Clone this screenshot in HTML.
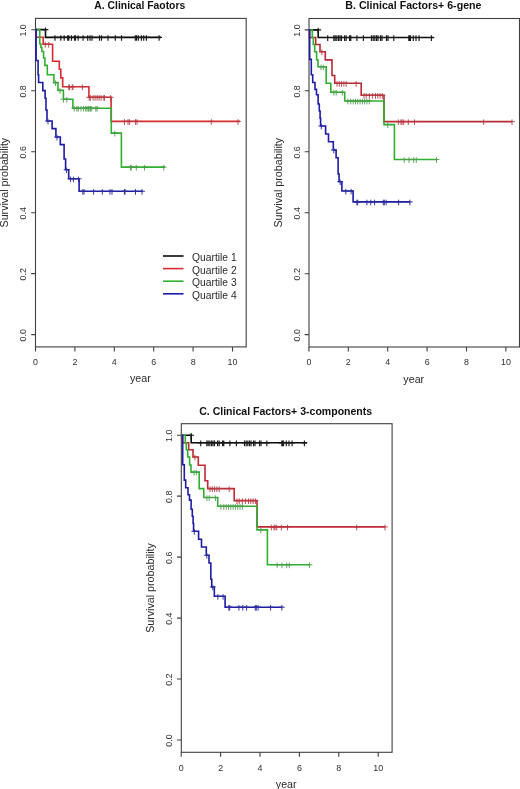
<!DOCTYPE html>
<html><head><meta charset="utf-8"><style>
html,body{margin:0;padding:0;background:#fff;}
body{width:520px;height:789px;overflow:hidden;}
svg{display:block;will-change:transform;}
text{font-family:"Liberation Sans",sans-serif;}
.tk{font-size:8.9px;fill:#303030;}
.ax{font-size:10.7px;fill:#2a2a2a;}
.ti{font-size:10.6px;font-weight:bold;fill:#111;}
.lg{font-size:10.3px;fill:#2a2a2a;}
</style></head><body>
<svg width="520" height="789" viewBox="0 0 520 789">
<rect width="520" height="789" fill="#fff"/>
<rect x="35.5" y="18.4" width="210.7" height="328.5" fill="none" stroke="#404040" stroke-width="1.1"/>
<path d="M31.2 334.6H35.5M31.2 273.64H35.5M31.2 212.68H35.5M31.2 151.72H35.5M31.2 90.76H35.5M31.2 29.8H35.5M35.5 346.9V351.4M74.9 346.9V351.4M114.3 346.9V351.4M153.7 346.9V351.4M193.1 346.9V351.4M232.5 346.9V351.4" stroke="#404040" stroke-width="1.1" fill="none"/>
<text class="tk" x="26.2" y="335.2" transform="rotate(-90 26.2 335.2)" text-anchor="middle">0.0</text>
<text class="tk" x="26.2" y="274.24" transform="rotate(-90 26.2 274.24)" text-anchor="middle">0.2</text>
<text class="tk" x="26.2" y="213.28" transform="rotate(-90 26.2 213.28)" text-anchor="middle">0.4</text>
<text class="tk" x="26.2" y="152.32" transform="rotate(-90 26.2 152.32)" text-anchor="middle">0.6</text>
<text class="tk" x="26.2" y="91.36" transform="rotate(-90 26.2 91.36)" text-anchor="middle">0.8</text>
<text class="tk" x="26.2" y="30.4" transform="rotate(-90 26.2 30.4)" text-anchor="middle">1.0</text>
<text class="tk" x="35.5" y="365.1" text-anchor="middle">0</text>
<text class="tk" x="74.9" y="365.1" text-anchor="middle">2</text>
<text class="tk" x="114.3" y="365.1" text-anchor="middle">4</text>
<text class="tk" x="153.7" y="365.1" text-anchor="middle">6</text>
<text class="tk" x="193.1" y="365.1" text-anchor="middle">8</text>
<text class="tk" x="232.5" y="365.1" text-anchor="middle">10</text>
<text class="ax" x="140.35" y="382.4" text-anchor="middle">year</text>
<text class="ax" x="8" y="182.65" transform="rotate(-90 8 182.65)" text-anchor="middle">Survival probability</text>
<text class="ti" x="139.8" y="9.3" text-anchor="middle" textLength="90.9" lengthAdjust="spacingAndGlyphs">A. Clinical Faotors</text>
<path d="M35.6 29.6H45.5V37.4H161" stroke="#0a0a0a" stroke-width="1.6" fill="none"/><path d="M45.5 27.4v5.6M42.6 29.6h5.8M55 35.2v5.6M52.1 37.4h5.8M60.8 35.2v5.6M57.9 37.4h5.8M64.2 35.2v5.6M61.3 37.4h5.8M67.7 35.2v5.6M64.8 37.4h5.8M68.8 35.2v5.6M65.9 37.4h5.8M71.5 35.2v5.6M68.6 37.4h5.8M74.6 35.2v5.6M71.7 37.4h5.8M75.4 35.2v5.6M72.5 37.4h5.8M78.1 35.2v5.6M75.2 37.4h5.8M83.1 35.2v5.6M80.2 37.4h5.8M87.7 35.2v5.6M84.8 37.4h5.8M90 35.2v5.6M87.1 37.4h5.8M92 35.2v5.6M89.1 37.4h5.8M99.5 35.2v5.6M96.6 37.4h5.8M101.5 35.2v5.6M98.6 37.4h5.8M108 35.2v5.6M105.1 37.4h5.8M115.3 35.2v5.6M112.4 37.4h5.8M121.5 35.2v5.6M118.6 37.4h5.8M135.3 35.2v5.6M132.4 37.4h5.8M136.6 35.2v5.6M133.7 37.4h5.8M138.3 35.2v5.6M135.4 37.4h5.8M141.4 35.2v5.6M138.5 37.4h5.8M143.7 35.2v5.6M140.8 37.4h5.8M146.4 35.2v5.6M143.5 37.4h5.8M159.1 35.2v5.6M156.2 37.4h5.8" stroke="#1a1a1a" stroke-width="1.15" fill="none"/>
<path d="M35.6 29.6H36.1V37.2H43.2V44.2H52.6V61.2H59.3V69.3H60.8V77.9H62.7V86.7H88.9V97.3H111.1V121.4H240" stroke="#d82c30" stroke-width="1.6" fill="none"/><path d="M45.2 42v5.6M42.3 44.2h5.8M48.7 42v5.6M45.8 44.2h5.8M68.8 84.5v5.6M65.9 86.7h5.8M69.5 84.5v5.6M66.6 86.7h5.8M72.2 84.5v5.6M69.3 86.7h5.8M72.9 84.5v5.6M70 86.7h5.8M82.3 84.5v5.6M79.4 86.7h5.8M89.2 95.1v5.6M86.3 97.3h5.8M90.4 95.1v5.6M87.5 97.3h5.8M93.1 95.1v5.6M90.2 97.3h5.8M95.1 95.1v5.6M92.2 97.3h5.8M97.1 95.1v5.6M94.2 97.3h5.8M99.1 95.1v5.6M96.2 97.3h5.8M101.1 95.1v5.6M98.2 97.3h5.8M103.8 95.1v5.6M100.9 97.3h5.8M104.5 95.1v5.6M101.6 97.3h5.8M110.6 95.1v5.6M107.7 97.3h5.8M124.5 119.2v5.6M121.6 121.4h5.8M128 119.2v5.6M125.1 121.4h5.8M129.5 119.2v5.6M126.6 121.4h5.8M135.5 119.2v5.6M132.6 121.4h5.8M137 119.2v5.6M134.1 121.4h5.8M211.3 119.2v5.6M208.4 121.4h5.8M238 119.2v5.6M235.1 121.4h5.8" stroke="#b83a42" stroke-width="0.9" fill="none"/>
<path d="M35.6 29.6H39.8V44H40.9V47.5H41.9V51.5H43.6V58H44.9V65.4H47.3V74.8H53.9V82.6H58V90.4H63.4V99.2H72.9V108.2H111.3V133.1H121.4V167.1H165" stroke="#30b030" stroke-width="1.6" fill="none"/><path d="M55.5 80.4v5.6M52.6 82.6h5.8M60 88.2v5.6M57.1 90.4h5.8M63.5 97v5.6M60.6 99.2h5.8M66.8 97v5.6M63.9 99.2h5.8M74.2 106v5.6M71.3 108.2h5.8M76.9 106v5.6M74 108.2h5.8M78.3 106v5.6M75.4 108.2h5.8M81 106v5.6M78.1 108.2h5.8M83.6 106v5.6M80.7 108.2h5.8M85.7 106v5.6M82.8 108.2h5.8M87 106v5.6M84.1 108.2h5.8M88.4 106v5.6M85.5 108.2h5.8M89 106v5.6M86.1 108.2h5.8M90.4 106v5.6M87.5 108.2h5.8M91.7 106v5.6M88.8 108.2h5.8M95.8 106v5.6M92.9 108.2h5.8M97.1 106v5.6M94.2 108.2h5.8M114.8 130.9v5.6M111.9 133.1h5.8M130.5 164.9v5.6M127.6 167.1h5.8M131.3 164.9v5.6M128.4 167.1h5.8M136.3 164.9v5.6M133.4 167.1h5.8M144.5 164.9v5.6M141.6 167.1h5.8M163.8 164.9v5.6M160.9 167.1h5.8" stroke="#4c9e4c" stroke-width="0.9" fill="none"/>
<path d="M35.6 29.6H36.1V60.5H38.1V74.7H38.6V82.5H42.8V90.6H45.1V98.2H46V110H47V121H52.1V128.6H55.9V137H60.3V144.6H64.1V159H65.6V169.7H68.7V178.8H79.1V191.3H143" stroke="#1c1ca6" stroke-width="1.6" fill="none"/><path d="M48 118.8v5.6M45.1 121h5.8M57 134.8v5.6M54.1 137h5.8M66.6 167.5v5.6M63.7 169.7h5.8M70.5 176.6v5.6M67.6 178.8h5.8M73.4 176.6v5.6M70.5 178.8h5.8M78.6 176.6v5.6M75.7 178.8h5.8M82.8 189.1v5.6M79.9 191.3h5.8M84 189.1v5.6M81.1 191.3h5.8M93.6 189.1v5.6M90.7 191.3h5.8M102.3 189.1v5.6M99.4 191.3h5.8M110 189.1v5.6M107.1 191.3h5.8M112 189.1v5.6M109.1 191.3h5.8M124.4 189.1v5.6M121.5 191.3h5.8M125 189.1v5.6M122.1 191.3h5.8M135.5 189.1v5.6M132.6 191.3h5.8M142 189.1v5.6M139.1 191.3h5.8" stroke="#2c2ca0" stroke-width="0.95" fill="none"/>
<path d="M163 256H183.5" stroke="#0a0a0a" stroke-width="1.6"/>
<text class="lg" x="192" y="261">Quartile 1</text>
<path d="M163 268.6H183.5" stroke="#d82c30" stroke-width="1.6"/>
<text class="lg" x="192" y="273.6">Quartile 2</text>
<path d="M163 281.2H183.5" stroke="#30b030" stroke-width="1.6"/>
<text class="lg" x="192" y="286.2">Quartile 3</text>
<path d="M163 293.8H183.5" stroke="#1c1ca6" stroke-width="1.6"/>
<text class="lg" x="192" y="298.8">Quartile 4</text>
<rect x="309" y="18.5" width="210.5" height="328.5" fill="none" stroke="#404040" stroke-width="1.1"/>
<path d="M304.7 334.65H309M304.7 273.69H309M304.7 212.73H309M304.7 151.77H309M304.7 90.81H309M304.7 29.85H309M308.9 347V351.5M348.3 347V351.5M387.7 347V351.5M427.1 347V351.5M466.5 347V351.5M505.9 347V351.5" stroke="#404040" stroke-width="1.1" fill="none"/>
<text class="tk" x="299.7" y="335.25" transform="rotate(-90 299.7 335.25)" text-anchor="middle">0.0</text>
<text class="tk" x="299.7" y="274.29" transform="rotate(-90 299.7 274.29)" text-anchor="middle">0.2</text>
<text class="tk" x="299.7" y="213.33" transform="rotate(-90 299.7 213.33)" text-anchor="middle">0.4</text>
<text class="tk" x="299.7" y="152.37" transform="rotate(-90 299.7 152.37)" text-anchor="middle">0.6</text>
<text class="tk" x="299.7" y="91.41" transform="rotate(-90 299.7 91.41)" text-anchor="middle">0.8</text>
<text class="tk" x="299.7" y="30.45" transform="rotate(-90 299.7 30.45)" text-anchor="middle">1.0</text>
<text class="tk" x="308.9" y="365.2" text-anchor="middle">0</text>
<text class="tk" x="348.3" y="365.2" text-anchor="middle">2</text>
<text class="tk" x="387.7" y="365.2" text-anchor="middle">4</text>
<text class="tk" x="427.1" y="365.2" text-anchor="middle">6</text>
<text class="tk" x="466.5" y="365.2" text-anchor="middle">8</text>
<text class="tk" x="505.9" y="365.2" text-anchor="middle">10</text>
<text class="ax" x="413.75" y="382.5" text-anchor="middle">year</text>
<text class="ax" x="281.5" y="182.75" transform="rotate(-90 281.5 182.75)" text-anchor="middle">Survival probability</text>
<text class="ti" x="413.4" y="9.3" text-anchor="middle" textLength="136.1" lengthAdjust="spacingAndGlyphs">B. Clinical Factors+ 6-gene</text>
<path d="M308.9 29.9H318.2V37.5H434" stroke="#0a0a0a" stroke-width="1.6" fill="none"/><path d="M318.2 27.7v5.6M315.3 29.9h5.8M327.7 35.3v5.6M324.8 37.5h5.8M333.8 35.3v5.6M330.9 37.5h5.8M335.2 35.3v5.6M332.3 37.5h5.8M336.8 35.3v5.6M333.9 37.5h5.8M338.5 35.3v5.6M335.6 37.5h5.8M340 35.3v5.6M337.1 37.5h5.8M341.5 35.3v5.6M338.6 37.5h5.8M344.6 35.3v5.6M341.7 37.5h5.8M346.2 35.3v5.6M343.3 37.5h5.8M349.6 35.3v5.6M346.7 37.5h5.8M350.8 35.3v5.6M347.9 37.5h5.8M356.9 35.3v5.6M354 37.5h5.8M363.4 35.3v5.6M360.5 37.5h5.8M371.5 35.3v5.6M368.6 37.5h5.8M373.2 35.3v5.6M370.3 37.5h5.8M374.8 35.3v5.6M371.9 37.5h5.8M376.5 35.3v5.6M373.6 37.5h5.8M378 35.3v5.6M375.1 37.5h5.8M380.5 35.3v5.6M377.6 37.5h5.8M382 35.3v5.6M379.1 37.5h5.8M386.5 35.3v5.6M383.6 37.5h5.8M388 35.3v5.6M385.1 37.5h5.8M393.8 35.3v5.6M390.9 37.5h5.8M408.8 35.3v5.6M405.9 37.5h5.8M409.6 35.3v5.6M406.7 37.5h5.8M410.5 35.3v5.6M407.6 37.5h5.8M413.3 35.3v5.6M410.4 37.5h5.8M416 35.3v5.6M413.1 37.5h5.8M419.1 35.3v5.6M416.2 37.5h5.8M431.4 35.3v5.6M428.5 37.5h5.8" stroke="#1a1a1a" stroke-width="1.15" fill="none"/>
<path d="M308.9 29.9H309.5V37.5H315.7V44.5H320V51.7H325.3V59.9H332V75.5H334.7V83.3H361.2V95.3H384V121.6H512" stroke="#b82a36" stroke-width="1.6" fill="none"/><path d="M321.9 49.5v5.6M319 51.7h5.8M337 81.1v5.6M334.1 83.3h5.8M339.3 81.1v5.6M336.4 83.3h5.8M341.6 81.1v5.6M338.7 83.3h5.8M343.9 81.1v5.6M341 83.3h5.8M346.2 81.1v5.6M343.3 83.3h5.8M356.2 81.1v5.6M353.3 83.3h5.8M364 93.1v5.6M361.1 95.3h5.8M366.2 93.1v5.6M363.3 95.3h5.8M369.3 93.1v5.6M366.4 95.3h5.8M372.4 93.1v5.6M369.5 95.3h5.8M375.5 93.1v5.6M372.6 95.3h5.8M377.8 93.1v5.6M374.9 95.3h5.8M380.1 93.1v5.6M377.2 95.3h5.8M382.4 93.1v5.6M379.5 95.3h5.8M398.3 119.4v5.6M395.4 121.6h5.8M401 119.4v5.6M398.1 121.6h5.8M402 119.4v5.6M399.1 121.6h5.8M403.7 119.4v5.6M400.8 121.6h5.8M408.3 119.4v5.6M405.4 121.6h5.8M414.5 119.4v5.6M411.6 121.6h5.8M483.7 119.4v5.6M480.8 121.6h5.8M512 119.4v5.6M509.1 121.6h5.8" stroke="#b83a42" stroke-width="0.9" fill="none"/>
<path d="M308.9 29.9H312.3V37.5H313.3V44.5H314.7V51.7H316.6V59.7H318V66.8H326.2V83.3H330.8V92.2H344.7V101H384V124.6H394.4V159.5H437" stroke="#30b030" stroke-width="1.6" fill="none"/><path d="M321 64.6v5.6M318.1 66.8h5.8M323.3 64.6v5.6M320.4 66.8h5.8M333.9 90v5.6M331 92.2h5.8M336.2 90v5.6M333.3 92.2h5.8M342.4 90v5.6M339.5 92.2h5.8M347.8 98.8v5.6M344.9 101h5.8M350.8 98.8v5.6M347.9 101h5.8M353.2 98.8v5.6M350.3 101h5.8M355.5 98.8v5.6M352.6 101h5.8M357.8 98.8v5.6M354.9 101h5.8M360.1 98.8v5.6M357.2 101h5.8M362.4 98.8v5.6M359.5 101h5.8M364.7 98.8v5.6M361.8 101h5.8M367 98.8v5.6M364.1 101h5.8M369.3 98.8v5.6M366.4 101h5.8M387.8 122.4v5.6M384.9 124.6h5.8M404.2 157.3v5.6M401.3 159.5h5.8M409 157.3v5.6M406.1 159.5h5.8M413.7 157.3v5.6M410.8 159.5h5.8M416.3 157.3v5.6M413.4 159.5h5.8M436.5 157.3v5.6M433.6 159.5h5.8" stroke="#4c9e4c" stroke-width="0.9" fill="none"/>
<path d="M309.2 29.9H309.7V59.4H311.3V74.8H312.7V82.5H315V89.4H316.5V94.8H318.1V104H319.3V111H320.1V118.2H320.6V126H325.6V134H328.5V141.7H333.3V150H336.1V157.7H338.1V174H339.1V181.7H341.9V191H353.1V201.9H410.3" stroke="#1c1ca6" stroke-width="1.6" fill="none"/><path d="M321.3 123.8v5.6M318.4 126h5.8M333.8 147.8v5.6M330.9 150h5.8M340.2 179.5v5.6M337.3 181.7h5.8M345.8 188.8v5.6M342.9 191h5.8M351.1 188.8v5.6M348.2 191h5.8M356.9 199.7v5.6M354 201.9h5.8M357.7 199.7v5.6M354.8 201.9h5.8M366.9 199.7v5.6M364 201.9h5.8M370.8 199.7v5.6M367.9 201.9h5.8M374.6 199.7v5.6M371.7 201.9h5.8M383.3 199.7v5.6M380.4 201.9h5.8M384.3 199.7v5.6M381.4 201.9h5.8M386.1 199.7v5.6M383.2 201.9h5.8M398.6 199.7v5.6M395.7 201.9h5.8M409.9 199.7v5.6M407 201.9h5.8" stroke="#2c2ca0" stroke-width="0.95" fill="none"/>
<rect x="181.3" y="423.7" width="210.8" height="328.6" fill="none" stroke="#404040" stroke-width="1.1"/>
<path d="M177 740H181.3M177 679.04H181.3M177 618.08H181.3M177 557.12H181.3M177 496.16H181.3M177 435.2H181.3M181.2 752.3V756.8M220.6 752.3V756.8M260 752.3V756.8M299.4 752.3V756.8M338.8 752.3V756.8M378.2 752.3V756.8" stroke="#404040" stroke-width="1.1" fill="none"/>
<text class="tk" x="172" y="740.6" transform="rotate(-90 172 740.6)" text-anchor="middle">0.0</text>
<text class="tk" x="172" y="679.64" transform="rotate(-90 172 679.64)" text-anchor="middle">0.2</text>
<text class="tk" x="172" y="618.68" transform="rotate(-90 172 618.68)" text-anchor="middle">0.4</text>
<text class="tk" x="172" y="557.72" transform="rotate(-90 172 557.72)" text-anchor="middle">0.6</text>
<text class="tk" x="172" y="496.76" transform="rotate(-90 172 496.76)" text-anchor="middle">0.8</text>
<text class="tk" x="172" y="435.8" transform="rotate(-90 172 435.8)" text-anchor="middle">1.0</text>
<text class="tk" x="181.2" y="770.5" text-anchor="middle">0</text>
<text class="tk" x="220.6" y="770.5" text-anchor="middle">2</text>
<text class="tk" x="260" y="770.5" text-anchor="middle">4</text>
<text class="tk" x="299.4" y="770.5" text-anchor="middle">6</text>
<text class="tk" x="338.8" y="770.5" text-anchor="middle">8</text>
<text class="tk" x="378.2" y="770.5" text-anchor="middle">10</text>
<text class="ax" x="286.2" y="787.8" text-anchor="middle">year</text>
<text class="ax" x="153.8" y="588" transform="rotate(-90 153.8 588)" text-anchor="middle">Survival probability</text>
<text class="ti" x="285.7" y="415" text-anchor="middle" textLength="173" lengthAdjust="spacingAndGlyphs">C. Clinical Factors+ 3-components</text>
<path d="M181.9 435.2H191.2V442.8H307" stroke="#0a0a0a" stroke-width="1.6" fill="none"/><path d="M191.2 433v5.6M188.3 435.2h5.8M200.7 440.6v5.6M197.8 442.8h5.8M206.8 440.6v5.6M203.9 442.8h5.8M208.2 440.6v5.6M205.3 442.8h5.8M209.8 440.6v5.6M206.9 442.8h5.8M211.5 440.6v5.6M208.6 442.8h5.8M213 440.6v5.6M210.1 442.8h5.8M214.5 440.6v5.6M211.6 442.8h5.8M217.6 440.6v5.6M214.7 442.8h5.8M219.2 440.6v5.6M216.3 442.8h5.8M222.6 440.6v5.6M219.7 442.8h5.8M223.8 440.6v5.6M220.9 442.8h5.8M229.9 440.6v5.6M227 442.8h5.8M236.4 440.6v5.6M233.5 442.8h5.8M244.5 440.6v5.6M241.6 442.8h5.8M246.2 440.6v5.6M243.3 442.8h5.8M247.8 440.6v5.6M244.9 442.8h5.8M249.5 440.6v5.6M246.6 442.8h5.8M251 440.6v5.6M248.1 442.8h5.8M253.5 440.6v5.6M250.6 442.8h5.8M255 440.6v5.6M252.1 442.8h5.8M259.5 440.6v5.6M256.6 442.8h5.8M261 440.6v5.6M258.1 442.8h5.8M266.8 440.6v5.6M263.9 442.8h5.8M281.8 440.6v5.6M278.9 442.8h5.8M282.6 440.6v5.6M279.7 442.8h5.8M283.5 440.6v5.6M280.6 442.8h5.8M286.3 440.6v5.6M283.4 442.8h5.8M289 440.6v5.6M286.1 442.8h5.8M292.1 440.6v5.6M289.2 442.8h5.8M304.4 440.6v5.6M301.5 442.8h5.8" stroke="#1a1a1a" stroke-width="1.15" fill="none"/>
<path d="M181.9 435.2H182.5V442.8H188.7V449.8H193V457H198.3V465.2H205V480.8H207.7V488.6H234.2V500.6H257V526.9H385" stroke="#c02a36" stroke-width="1.6" fill="none"/><path d="M194.9 454.8v5.6M192 457h5.8M210 486.4v5.6M207.1 488.6h5.8M212.3 486.4v5.6M209.4 488.6h5.8M214.6 486.4v5.6M211.7 488.6h5.8M216.9 486.4v5.6M214 488.6h5.8M219.2 486.4v5.6M216.3 488.6h5.8M229.2 486.4v5.6M226.3 488.6h5.8M237 498.4v5.6M234.1 500.6h5.8M239.2 498.4v5.6M236.3 500.6h5.8M242.3 498.4v5.6M239.4 500.6h5.8M245.4 498.4v5.6M242.5 500.6h5.8M248.5 498.4v5.6M245.6 500.6h5.8M250.8 498.4v5.6M247.9 500.6h5.8M253.1 498.4v5.6M250.2 500.6h5.8M255.4 498.4v5.6M252.5 500.6h5.8M271.3 524.7v5.6M268.4 526.9h5.8M274 524.7v5.6M271.1 526.9h5.8M275 524.7v5.6M272.1 526.9h5.8M276.7 524.7v5.6M273.8 526.9h5.8M281.3 524.7v5.6M278.4 526.9h5.8M287.5 524.7v5.6M284.6 526.9h5.8M356.7 524.7v5.6M353.8 526.9h5.8M385 524.7v5.6M382.1 526.9h5.8" stroke="#b83a42" stroke-width="0.9" fill="none"/>
<path d="M181.9 435.2H185.3V442.8H186.3V449.8H187.7V457H189.6V465H191V472.1H199.2V488.6H203.8V497.5H217.7V506.3H257V529.9H267.4V564.8H310" stroke="#30b030" stroke-width="1.6" fill="none"/><path d="M194 469.9v5.6M191.1 472.1h5.8M196.3 469.9v5.6M193.4 472.1h5.8M206.9 495.3v5.6M204 497.5h5.8M209.2 495.3v5.6M206.3 497.5h5.8M215.4 495.3v5.6M212.5 497.5h5.8M220.8 504.1v5.6M217.9 506.3h5.8M223.8 504.1v5.6M220.9 506.3h5.8M226.2 504.1v5.6M223.3 506.3h5.8M228.5 504.1v5.6M225.6 506.3h5.8M230.8 504.1v5.6M227.9 506.3h5.8M233.1 504.1v5.6M230.2 506.3h5.8M235.4 504.1v5.6M232.5 506.3h5.8M237.7 504.1v5.6M234.8 506.3h5.8M240 504.1v5.6M237.1 506.3h5.8M242.3 504.1v5.6M239.4 506.3h5.8M260.8 527.7v5.6M257.9 529.9h5.8M277.2 562.6v5.6M274.3 564.8h5.8M282 562.6v5.6M279.1 564.8h5.8M286.7 562.6v5.6M283.8 564.8h5.8M289.3 562.6v5.6M286.4 564.8h5.8M309.5 562.6v5.6M306.6 564.8h5.8" stroke="#4c9e4c" stroke-width="0.9" fill="none"/>
<path d="M182.2 435.2H182.7V464.7H184.3V480.1H185.7V487.8H188V494.7H189.5V500.1H191.1V509.3H192.3V516.3H193.1V523.5H193.6V531.3H198.6V539.3H201.5V547H206.3V555.3H209.01V563H210.84V579.3H211.76V587H214.33V596.3H225.1V607.2H282.3" stroke="#1c1ca6" stroke-width="1.6" fill="none"/><path d="M194.3 529.1v5.6M191.4 531.3h5.8M206.8 553.1v5.6M203.9 555.3h5.8M212.77 584.8v5.6M209.87 587h5.8M217.9 594.1v5.6M215 596.3h5.8M223.1 594.1v5.6M220.2 596.3h5.8M228.9 605v5.6M226 607.2h5.8M229.7 605v5.6M226.8 607.2h5.8M238.9 605v5.6M236 607.2h5.8M242.8 605v5.6M239.9 607.2h5.8M246.6 605v5.6M243.7 607.2h5.8M255.3 605v5.6M252.4 607.2h5.8M256.3 605v5.6M253.4 607.2h5.8M258.1 605v5.6M255.2 607.2h5.8M270.6 605v5.6M267.7 607.2h5.8M281.9 605v5.6M279 607.2h5.8" stroke="#2c2ca0" stroke-width="0.95" fill="none"/>
</svg>
</body></html>
